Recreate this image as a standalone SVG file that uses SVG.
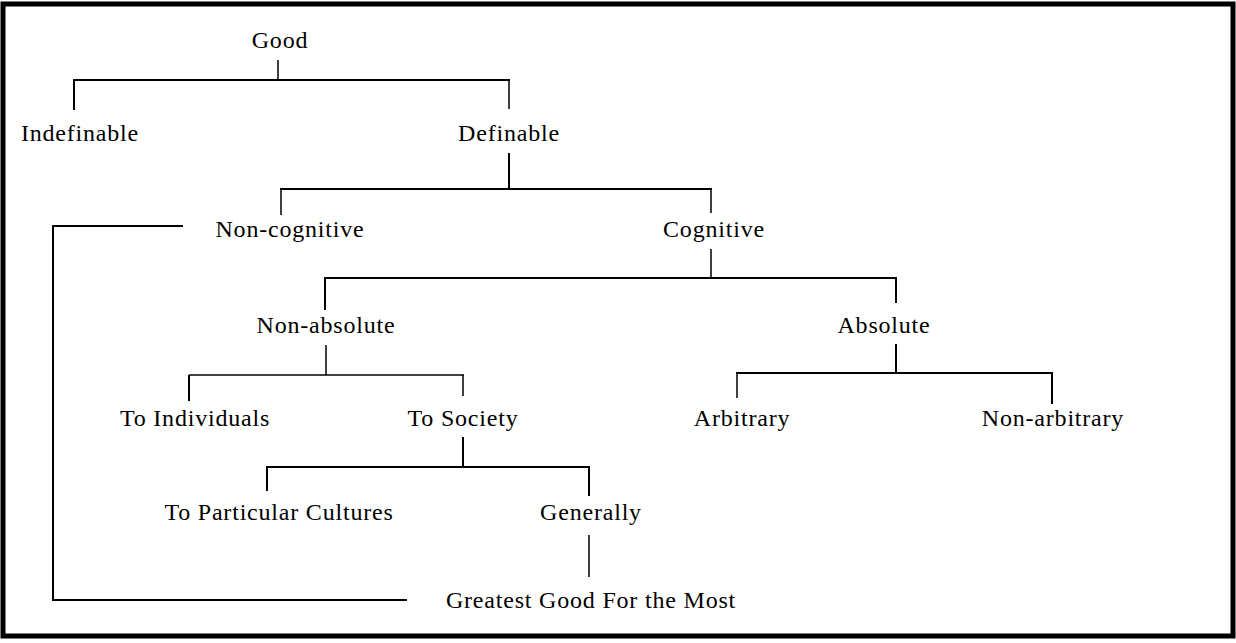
<svg xmlns="http://www.w3.org/2000/svg" width="1236" height="643" viewBox="0 0 1236 643">
<style>
text{font-family:"Liberation Serif","Times New Roman",serif;font-size:24px;fill:#000;text-anchor:middle;letter-spacing:0.8px}
.c line,.c polyline{stroke:#000;stroke-width:2;fill:none}
.c .t{stroke-width:1.5}
</style>
<rect x="0" y="0" width="1236" height="643" fill="#fff"/>
<rect x="3" y="4" width="1230" height="632" fill="none" stroke="#000" stroke-width="5"/>
<g class="c" id="connectors">
<line x1="278" y1="60" x2="278" y2="80" class="t"/>
<line x1="73" y1="80" x2="510" y2="80"/>
<line x1="74" y1="80" x2="74" y2="110"/>
<line x1="509" y1="80" x2="509" y2="109" class="t"/>
<line x1="509" y1="153" x2="509" y2="189"/>
<line x1="280" y1="189" x2="712" y2="189"/>
<line x1="281" y1="189" x2="281" y2="215" class="t"/>
<line x1="711" y1="189" x2="711" y2="213" class="t"/>
<line x1="711" y1="249" x2="711" y2="278" class="t"/>
<line x1="324" y1="278" x2="897" y2="278"/>
<line x1="325" y1="278" x2="325" y2="310"/>
<line x1="896" y1="278" x2="896" y2="303"/>
<line x1="326" y1="345" x2="326" y2="375" class="t"/>
<line x1="189" y1="375" x2="464" y2="375" class="t"/>
<line x1="189" y1="375" x2="189" y2="401"/>
<line x1="463" y1="375" x2="463" y2="396" class="t"/>
<line x1="896" y1="344" x2="896" y2="373"/>
<line x1="736" y1="373" x2="1053" y2="373"/>
<line x1="737" y1="373" x2="737" y2="398" class="t"/>
<line x1="1052" y1="373" x2="1052" y2="404"/>
<line x1="463" y1="437" x2="463" y2="467"/>
<line x1="266" y1="467" x2="590" y2="467"/>
<line x1="267" y1="467" x2="267" y2="491"/>
<line x1="589" y1="467" x2="589" y2="496"/>
<line x1="589" y1="535" x2="589" y2="577" class="t"/>
<polyline points="183,226 53,226 53,600 407,600"/>
</g>
<g id="n-good"><text x="280" y="48">Good</text></g>
<g id="n-indefinable"><text x="80" y="141">Indefinable</text></g>
<g id="n-definable"><text x="509" y="141">Definable</text></g>
<g id="n-noncognitive"><text x="290" y="237">Non-cognitive</text></g>
<g id="n-cognitive"><text x="714" y="237">Cognitive</text></g>
<g id="n-nonabsolute"><text x="326" y="333">Non-absolute</text></g>
<g id="n-absolute"><text x="884" y="333">Absolute</text></g>
<g id="n-individuals"><text x="195" y="426">To Individuals</text></g>
<g id="n-society"><text x="463" y="426">To Society</text></g>
<g id="n-arbitrary"><text x="742" y="426">Arbitrary</text></g>
<g id="n-nonarbitrary"><text x="1053" y="426">Non-arbitrary</text></g>
<g id="n-cultures"><text x="279" y="520">To Particular Cultures</text></g>
<g id="n-generally"><text x="591" y="520">Generally</text></g>
<g id="n-greatest"><text x="591" y="608">Greatest Good For the Most</text></g>
</svg>
